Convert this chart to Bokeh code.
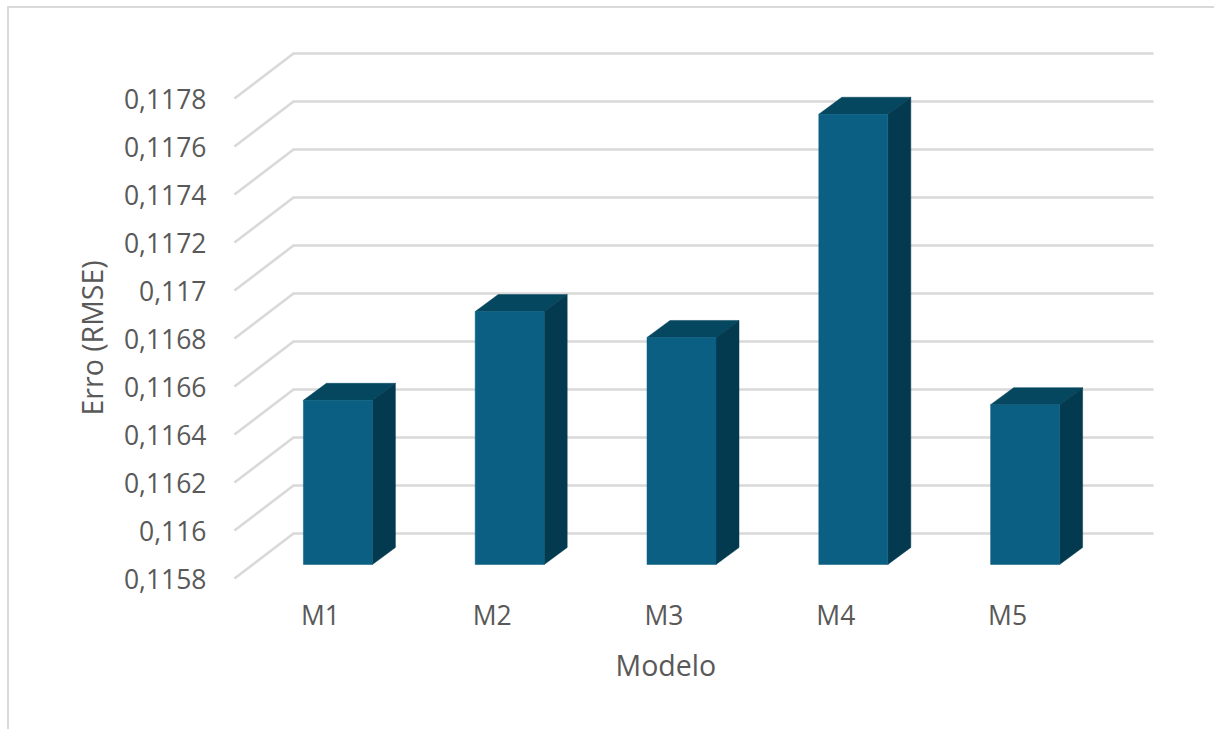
from bokeh.plotting import figure
from bokeh.models import FixedTicker, Range1d, Title
from bokeh.embed import file_html
from bokeh.resources import INLINE

# Chart data
models = ["M1", "M2", "M3", "M4", "M5"]
rmse = [0.116484, 0.116854, 0.116746, 0.117676, 0.116466]
y_ticks = [0.1158, 0.116, 0.1162, 0.1164, 0.1166, 0.1168, 0.117, 0.1172, 0.1174, 0.1176, 0.1178]
y_labels = ["0,1158", "0,116", "0,1162", "0,1164", "0,1166", "0,1168", "0,117", "0,1172", "0,1174", "0,1176", "0,1178"]

# Pixel scale of the pseudo-3D projection
PX_PER_CAT = 171.8
PX_PER_VAL = 240000.0
FONT = "Open Sans"
TEXT = "#595959"
GRID = "#d9d9d9"
FRONT = "#0a5f82"
TOP = "#04475f"
SIDE = "#033a50"


def dx(px):
    return px / PX_PER_CAT


def dy(px):
    return px / PX_PER_VAL


FLOOR_DX, FLOOR_DY = dx(59), dy(45)      # depth of the walls
BAR_DX, BAR_DY = dx(-17), dy(14)         # bar offset from the category tick
DEPTH_DX, DEPTH_DY = dx(23), dy(17)      # depth of a bar
BAR_W = dx(69)

x_start = -0.5 - dx(4)
y_start = y_ticks[0] - dy(4)
p = figure(
    width=1214, height=729, output_backend="svg", toolbar_location=None,
    x_range=Range1d(x_start, x_start + dx(930)),
    y_range=Range1d(y_start, y_start + dy(542)),
    min_border_left=230, min_border_right=54, min_border_top=40, min_border_bottom=147,
    background_fill_color="white", border_fill_color="white",
)
p.outline_line_color = None
p.grid.visible = False

# Chart area border along the top and left of the page
p.stylesheets = [
    ":host::after { content: ''; position: absolute; left: 7px; top: 6px; width: 1207px; height: 723px;"
    " border-top: 2.5px solid #d9d9d9; border-left: 2.5px solid #d9d9d9; box-sizing: border-box;"
    " pointer-events: none; }"
]

# Gridlines run from the front edge up the side wall and along the back wall
x_front = -0.5
x_back = x_front + FLOOR_DX
x_end = x_back + dx(860)
for t in y_ticks:
    p.line([x_front, x_back, x_end], [t, t + FLOOR_DY, t + FLOOR_DY], line_color=GRID, line_width=2.6)

# Each column is a front face, a top face and a side face
for i, v in enumerate(rmse):
    left = i + BAR_DX
    right = left + BAR_W
    floor = y_ticks[0] + BAR_DY
    top = v + BAR_DY
    p.patch([left, right, right + DEPTH_DX, left + DEPTH_DX], [top, top, top + DEPTH_DY, top + DEPTH_DY],
            fill_color=TOP, line_color=TOP, line_width=0.5)
    p.patch([right, right + DEPTH_DX, right + DEPTH_DX, right], [floor, floor + DEPTH_DY, top + DEPTH_DY, top],
            fill_color=SIDE, line_color=SIDE, line_width=0.5)
    p.quad(left=left, right=right, bottom=floor, top=top, fill_color=FRONT, line_color=FRONT, line_width=0.5)

# Axes
p.yaxis.ticker = FixedTicker(ticks=y_ticks)
p.yaxis.major_label_overrides = dict(zip(y_ticks, y_labels))
p.xaxis.ticker = FixedTicker(ticks=list(range(len(models))))
p.xaxis.major_label_overrides = dict(enumerate(models))
for axis in (p.xaxis[0], p.yaxis[0]):
    axis.axis_line_color = None
    axis.major_tick_line_color = None
    axis.minor_tick_line_color = None
    axis.major_tick_out = 0
    axis.major_tick_in = 0
    axis.minor_tick_out = 0
    axis.major_label_text_font = FONT
    axis.major_label_text_font_size = "26.5px"
    axis.major_label_text_color = TEXT
p.yaxis.major_label_standoff = 24
p.xaxis.major_label_standoff = 14

# Axis titles, placed by their distance from the start of each axis
for text, side, offset, standoff in (("Modelo", "below", 385, 17), ("Erro (RMSE)", "left", 167, 19)):
    p.add_layout(Title(text=text, align="left", offset=offset, standoff=standoff,
                       text_font=FONT, text_font_size="28.5px", text_font_style="normal",
                       text_color=TEXT), side)

open("out.html", "w").write(file_html(p, INLINE))
